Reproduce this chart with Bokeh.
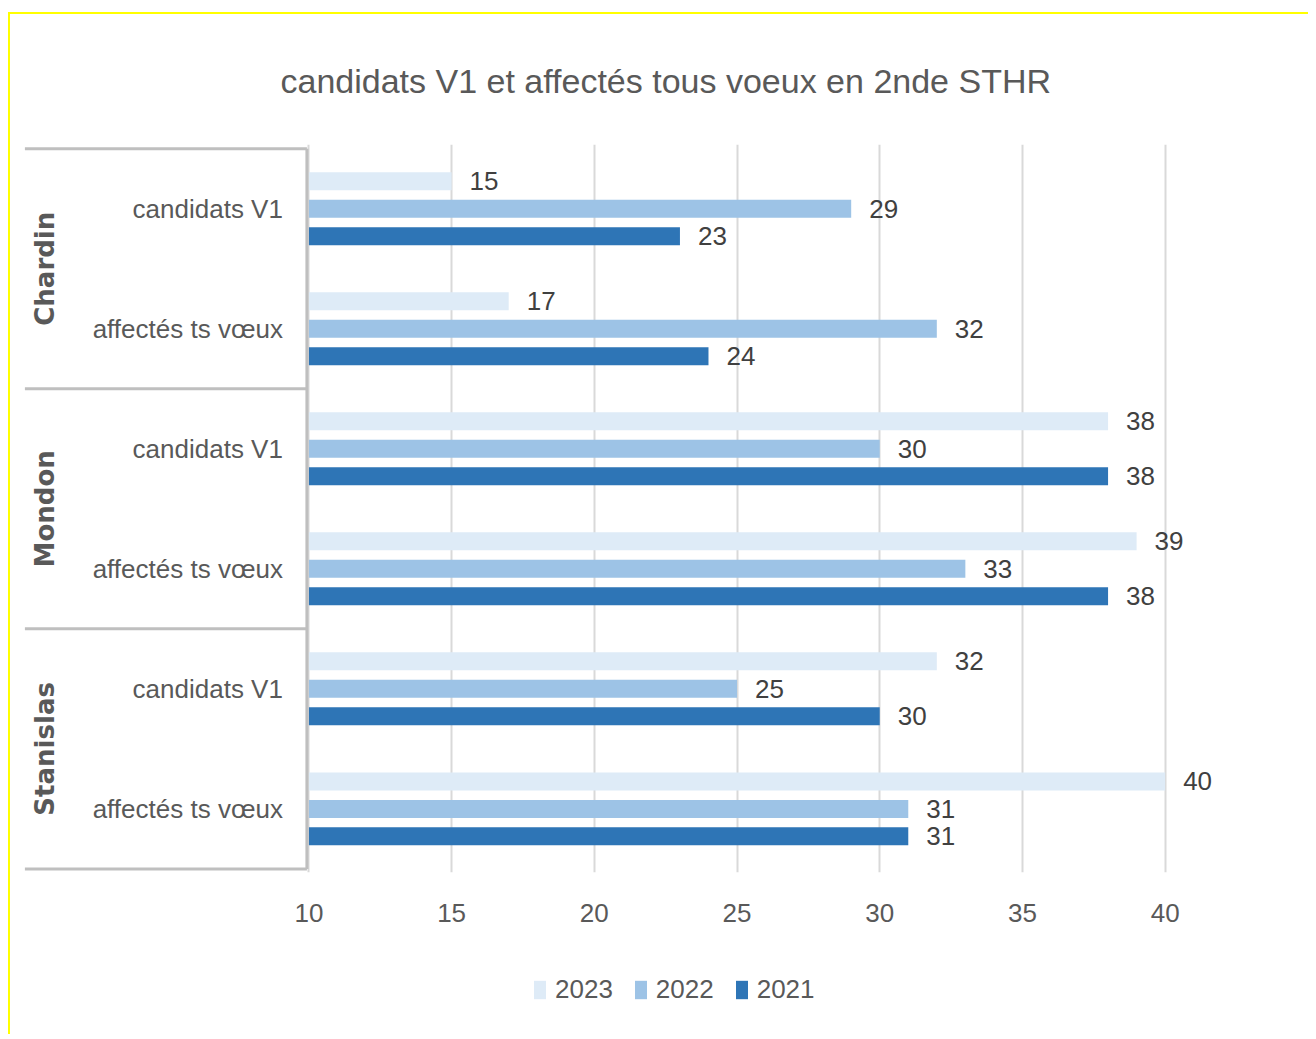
from bokeh.plotting import figure
from bokeh.layouts import column
from bokeh.models import ColumnDataSource, Range1d, FixedTicker, Legend, LegendItem, Title
from bokeh.core.properties import value
from bokeh.embed import file_html
from bokeh.resources import INLINE
import math

# ---- data ----
groups = ["Chardin", "Mondon", "Stanislas"]
subcats = ["candidats V1", "affectés ts vœux"]
years = ["2023", "2022", "2021"]
v2023 = [15, 17, 38, 39, 32, 40]
v2022 = [29, 32, 30, 33, 25, 31]
v2021 = [23, 24, 38, 38, 30, 31]
x_ticks = [10, 15, 20, 25, 30, 35, 40]
title_text = "candidats V1 et affectés tous voeux en 2nde STHR"

colors = {"2023": "#DEEBF7", "2022": "#9DC3E6", "2021": "#2E75B6"}
series = {"2023": v2023, "2022": v2022, "2021": v2021}
offsets = {"2023": 0.229, "2022": 0.0, "2021": -0.229}

n_rows = len(groups) * len(subcats)
x0 = x_ticks[0]
row_labels = [s for g in groups for s in subcats]
row_y = [n_rows - 0.5 - i for i in range(n_rows)]

FONT = "Liberation Sans"
W = 1298

p = figure(width=W, height=950, output_backend="svg", toolbar_location=None,
           x_range=Range1d(0, 42.5), y_range=Range1d(-0.03, n_rows + 0.035),
           min_border_left=13, min_border_right=72, min_border_top=130, min_border_bottom=92)
p.outline_line_color = None
p.background_fill_color = "white"
p.border_fill_color = "white"

p.title = Title(text=title_text, text_font=FONT, text_font_size="34px",
                text_font_style="normal", text_color="#595959", align="left", offset=257,
                standoff=90)

# grid & axes
p.ygrid.visible = False
p.yaxis.visible = False
p.xgrid.ticker = FixedTicker(ticks=x_ticks)
p.xgrid.grid_line_color = "#D9D9D9"
p.xgrid.grid_line_width = 2
xa = p.xaxis[0]
xa.ticker = FixedTicker(ticks=x_ticks)
xa.axis_line_color = None
xa.major_tick_line_color = None
xa.minor_tick_line_color = None
xa.major_label_text_font = FONT
xa.major_label_text_font_size = "26px"
xa.major_label_text_color = "#595959"
xa.major_label_standoff = 25

# bars + data labels
for yr in years:
    src = ColumnDataSource(dict(y=[yy + offsets[yr] for yy in row_y], right=series[yr],
                                left=[x0] * n_rows, lab=[str(v) for v in series[yr]]))
    p.hbar(y="y", left="left", right="right", height=0.15, source=src,
           fill_color=colors[yr], line_color=None)
    p.text(x="right", y="y", text="lab", source=src, x_offset=18, text_align="left",
           text_baseline="middle", text_font=value(FONT), text_font_size="26px",
           text_color="#404040")

# category labels
p.text(x=[x0] * n_rows, y=row_y, text=row_labels, x_offset=-26, text_align="right",
       text_baseline="middle", text_font=value(FONT), text_font_size="26px",
       text_color="#595959")
grp_y = [n_rows - len(subcats) * (i + 0.5) for i in range(len(groups))]
p.text(x=[x0] * len(groups), y=grp_y, text=groups, x_offset=-264, angle=math.pi / 2,
       text_align="center", text_baseline="middle", text_font=value("DejaVu Sans"),
       text_font_size="26px", text_font_style="bold", text_color="#595959")

# hierarchical axis brackets
px_per_unit = 1213 / 42.5
left_edge = x0 - (308 - 24) / px_per_unit
vline_x = x0 - 2 / px_per_unit
bounds = [len(subcats) * k for k in range(len(groups) + 1)]
p.segment(x0=[left_edge] * len(bounds), x1=[vline_x] * len(bounds), y0=bounds, y1=bounds,
          line_color="#BFBFBF", line_width=3)
p.segment(x0=[vline_x], x1=[vline_x], y0=[0], y1=[n_rows], line_color="#BFBFBF", line_width=3)

# legend strip
lg = figure(width=W, height=70, output_backend="svg", toolbar_location=None,
            x_range=Range1d(0, 1), y_range=Range1d(0, 1), min_border=0)
lg.axis.visible = False
lg.grid.visible = False
lg.outline_line_color = None
items = []
for yr in years:
    src = ColumnDataSource(dict(y=row_y, right=series[yr], left=[x0] * n_rows))
    r = lg.hbar(y="y", left="left", right="right", height=0.15, source=src,
                fill_color=colors[yr], line_color=None, visible=False)
    items.append(LegendItem(label=yr, renderers=[r]))
legend = Legend(items=items, orientation="horizontal", location=(509, 29),
                glyph_width=15, glyph_height=23, label_standoff=8, spacing=20,
                label_text_font=FONT, label_text_font_size="26px",
                label_text_color="#595959", border_line_color=None, padding=0, margin=0,
                background_fill_alpha=0, inactive_fill_alpha=0, click_policy="none")
lg.add_layout(legend, "center")

layout = column(p, lg, spacing=0,
                styles={"border-top": "2px solid #FFFF00", "border-left": "2px solid #FFFF00",
                        "margin-top": "12px", "margin-left": "8px"})

open("out.html", "w").write(file_html(layout, INLINE))
